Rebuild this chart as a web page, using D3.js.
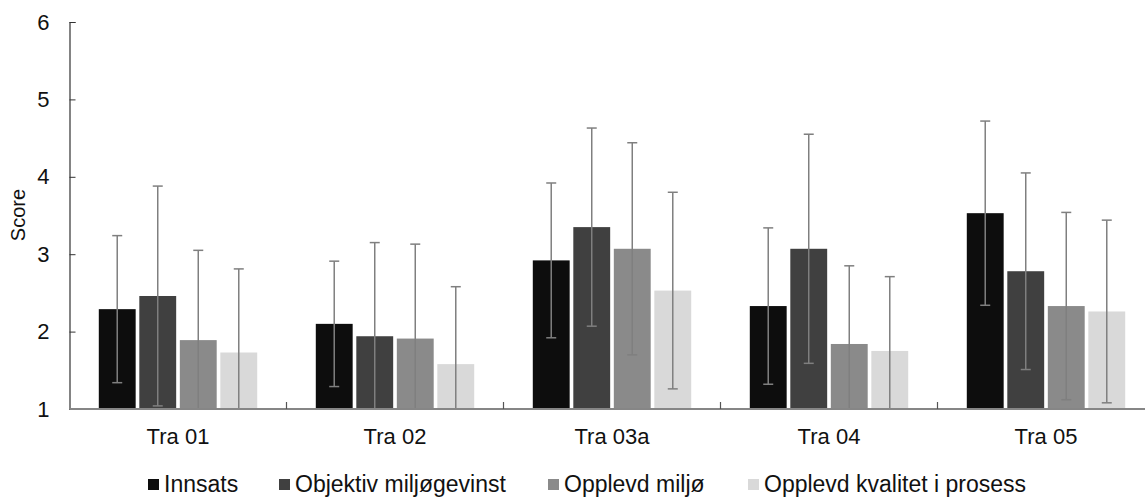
<!DOCTYPE html>
<html>
<head>
<meta charset="utf-8">
<script src="https://cdn.jsdelivr.net/npm/d3@7"></script>
<style>
  html, body { margin: 0; padding: 0; background: #fff; }
  svg { display: block; font-family: "Liberation Sans", Arial, sans-serif; }
</style>
</head>
<body>
<svg id="chart" width="1145" height="497"></svg>
<script>
// Categories and series
const categories = ["Tra 01", "Tra 02", "Tra 03a", "Tra 04", "Tra 05"];
const seriesNames = ["Innsats", "Objektiv miljøgevinst", "Opplevd miljø", "Opplevd kvalitet i prosess"];
const seriesColors = ["#0d0d0d", "#404040", "#8a8a8a", "#d9d9d9"];

// Mean scores per series (one value per category)
const innsats   = [2.29, 2.10, 2.92, 2.33, 3.53];
const objektiv  = [2.46, 1.94, 3.35, 3.07, 2.78];
const miljo     = [1.89, 1.91, 3.07, 1.84, 2.33];
const kvalitet  = [1.73, 1.58, 2.53, 1.75, 2.26];

// Standard deviations (error bar half-lengths)
const innsatsSd  = [0.95, 0.81, 1.00, 1.01, 1.19];
const objektivSd = [1.42, 1.21, 1.28, 1.48, 1.27];
const miljoSd    = [1.16, 1.22, 1.37, 1.01, 1.21];
const kvalitetSd = [1.08, 1.00, 1.27, 0.96, 1.18];

const yTicks = [1, 2, 3, 4, 5, 6];

const means = [innsats, objektiv, miljo, kvalitet];
const sds = [innsatsSd, objektivSd, miljoSd, kvalitetSd];

const data = categories.map((c, ci) => ({
  category: c,
  values: seriesNames.map((s, si) => ({
    series: s, color: seriesColors[si],
    mean: means[si][ci], sd: sds[si][ci]
  }))
}));

const svg = d3.select("#chart");
const left = 69.5, plotTop = 22, plotBottom = 409;

const x0 = d3.scaleBand()
  .domain(categories)
  .range([left, left + 5 * 217])
  .paddingInner(0.27)
  .paddingOuter(0.135);

const x1 = d3.scaleBand()
  .domain(seriesNames)
  .range([0, x0.bandwidth()])
  .paddingInner(0.09);

const y = d3.scaleLinear().domain([1, 6]).range([plotBottom, plotTop]);

// Bars
const groups = svg.append("g").selectAll("g")
  .data(data).join("g")
  .attr("transform", d => `translate(${x0(d.category)},0)`);

groups.selectAll("rect")
  .data(d => d.values).join("rect")
  .attr("x", d => x1(d.series))
  .attr("y", d => y(d.mean))
  .attr("width", x1.bandwidth())
  .attr("height", d => y(1) - y(d.mean))
  .attr("fill", d => d.color);

// Error bars (clipped at the lower axis bound)
const err = groups.selectAll("g.err")
  .data(d => d.values).join("g").attr("class", "err")
  .attr("stroke", "#7f7f7f").attr("stroke-width", 1.5);

const cx = d => x1(d.series) + x1.bandwidth() / 2;
const lo = d => Math.max(1, d.mean - d.sd);
err.append("line")
  .attr("x1", cx).attr("x2", cx)
  .attr("y1", d => y(d.mean + d.sd))
  .attr("y2", d => y(lo(d)));
err.append("line")
  .attr("x1", d => cx(d) - 5).attr("x2", d => cx(d) + 5)
  .attr("y1", d => y(d.mean + d.sd)).attr("y2", d => y(d.mean + d.sd));
err.filter(d => d.mean - d.sd > 1).append("line")
  .attr("x1", d => cx(d) - 5).attr("x2", d => cx(d) + 5)
  .attr("y1", d => y(d.mean - d.sd)).attr("y2", d => y(d.mean - d.sd));

// Y axis
const yAxis = svg.append("g")
  .attr("transform", `translate(${left},0)`)
  .call(d3.axisLeft(y).tickValues(yTicks).tickFormat(d3.format("d")).tickSize(-6).tickPadding(20));
yAxis.select(".domain").attr("stroke", "#333").attr("stroke-width", 1.2);
yAxis.selectAll(".tick line").attr("stroke", "#333");
yAxis.selectAll(".tick text")
  .attr("font-size", 22).attr("fill", "#111")
  .attr("font-family", "Liberation Sans, Arial, sans-serif");

// X axis baseline with separating ticks between categories
const xAxisG = svg.append("g");
xAxisG.append("line")
  .attr("x1", left).attr("x2", x0.range()[1])
  .attr("y1", plotBottom).attr("y2", plotBottom)
  .attr("stroke", "#868686").attr("stroke-width", 2);
xAxisG.selectAll("line.sep")
  .data(categories.slice(1)).join("line").attr("class", "sep")
  .attr("x1", d => x0(d) - x0.step() * 0.135)
  .attr("x2", d => x0(d) - x0.step() * 0.135)
  .attr("y1", plotBottom).attr("y2", plotBottom - 7)
  .attr("stroke", "#555").attr("stroke-width", 1.2);

xAxisG.selectAll("text")
  .data(categories).join("text")
  .attr("x", d => x0(d) + x0.bandwidth() / 2)
  .attr("y", 444)
  .attr("text-anchor", "middle")
  .attr("font-size", 22).attr("fill", "#111")
  .text(d => d);

// Y axis title
svg.append("text")
  .attr("transform", "translate(25,215) rotate(-90)")
  .attr("text-anchor", "middle")
  .attr("font-size", 20).attr("fill", "#111")
  .text("Score");

// Legend
const legendX = [148, 279, 548, 748];
const legend = svg.append("g").selectAll("g")
  .data(seriesNames).join("g")
  .attr("transform", (d, i) => `translate(${legendX[i]},479)`);
legend.append("rect")
  .attr("width", 11).attr("height", 11)
  .attr("fill", (d, i) => seriesColors[i]);
legend.append("text")
  .attr("x", 16).attr("y", 13)
  .attr("font-size", 23).attr("fill", "#111")
  .text(d => d);
</script>
</body>
</html>
